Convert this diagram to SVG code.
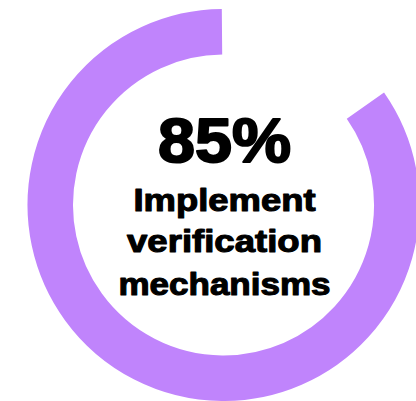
<svg xmlns="http://www.w3.org/2000/svg" width="416" height="401" viewBox="0 0 416 401">
  <style>
    .ring { fill: none; stroke: #c084fc; stroke-width: 45.5; stroke-linecap: butt; }
    .big { font-family: "Liberation Sans", Arial, sans-serif; font-weight: 700; font-size: 63px; fill: #000; stroke: #000; stroke-width: 2; stroke-linejoin: round; text-anchor: middle; }
    .lbl { font-family: "Liberation Sans", Arial, sans-serif; font-weight: 700; font-size: 31px; fill: #000; stroke: #000; stroke-width: 1.1; stroke-linejoin: round; text-anchor: middle; }
  </style>
  <rect width="416" height="401" fill="#ffffff"/>
  <g id="ring">
    <path class="ring" d="M 365.4 105.6 A 173.25 173.25 0 1 1 222.0 31.76"/>
  </g>
  <g id="label">
    <text class="big" x="224.5" y="162" textLength="133" lengthAdjust="spacingAndGlyphs">85%</text>
    <text class="lbl" x="224.5" y="210.5" textLength="182" lengthAdjust="spacingAndGlyphs">Implement</text>
    <text class="lbl" x="224.5" y="252" textLength="195" lengthAdjust="spacingAndGlyphs">verification</text>
    <text class="lbl" x="224.5" y="294.5" textLength="212" lengthAdjust="spacingAndGlyphs">mechanisms</text>
  </g>
</svg>
